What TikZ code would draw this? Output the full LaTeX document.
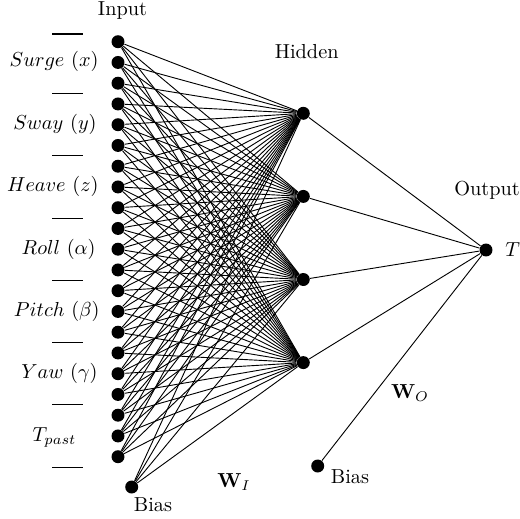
\documentclass[tikz,border=0pt]{standalone}
\begin{document}
\begin{tikzpicture}[x=0.493pt,y=-0.493pt,
  neuron/.style={circle,fill=black,inner sep=0pt,minimum size=6.4pt},
  conn/.style={line width=0.45pt},
  lbl/.style={inner sep=0pt}]
\useasboundingbox (0,0) rectangle (520,518);
% input nodes
\foreach \i in {1,...,21}{
  \node[neuron] (in\i) at (118,{41.7+(\i-1)*20.75}) {};
}
\node[neuron] (ib) at (131.7,487) {};
% hidden
\foreach \j in {1,...,4}{
  \node[neuron] (h\j) at (303.3,{113.3+(\j-1)*83.1}) {};
}
\node[neuron] (out) at (486,250) {};
\node[neuron] (ob) at (317.7,466) {};
% connections
\foreach \i in {1,...,21}{
  \foreach \j in {1,...,4}{
    \draw[conn] (in\i) -- (h\j);
  }
}
\foreach \j in {1,...,4}{
  \draw[conn] (ib) -- (h\j);
  \draw[conn] (h\j) -- (out);
}
\draw[conn] (ob) -- (out);
% dashes
\draw[line width=0.5pt] (52,34) -- (83,34);
\foreach \k in {1,...,7}{
  \draw[line width=0.5pt] (52,{41.7+(3*\k-0.5)*20.75}) -- (83,{41.7+(3*\k-0.5)*20.75});
}
% labels
\node[lbl,anchor=east] (l1) at (99,61.7) {$Surge~(x)$};
\node[lbl,anchor=east] (l2) at (97,124.5) {$Sway~(y)$};
\node[lbl,anchor=east] (l3) at (99,186.7) {$Heave~(z)$};
\node[lbl,anchor=east] (l4) at (96,249) {$Roll~(\alpha)$};
\node[lbl,anchor=east] (l5) at (100,311) {$Pitch~(\beta)$};
\node[lbl,anchor=east] (l6) at (98,373) {$Yaw~(\gamma)$};
\node[lbl] (l7) at (54.5,437) {$T_{past}$};
\node (tin) at (122.5,11) {Input};
\node (thid) at (306.7,51.7) {Hidden};
\node (tout) at (487,190) {Output};
\node[lbl,anchor=west] (tT) at (505,250) {$T$};
\node (bi) at (153,505) {Bias};
\node (bo) at (350,477) {Bias};
\node (wo) at (410,393) {$\mathbf{W}_O$};
\node (wi) at (234,482) {$\mathbf{W}_I$};
\end{tikzpicture}
\end{document}
